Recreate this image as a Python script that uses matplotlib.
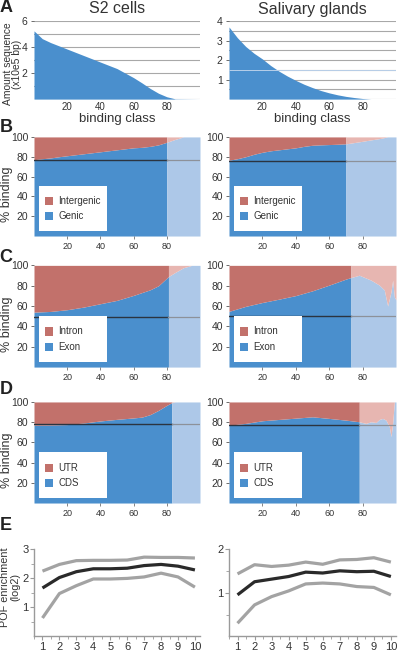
#!/usr/bin/env python3
"""Multi-panel binding class figure: sequence amount, binding fractions and POF enrichment."""

import matplotlib

matplotlib.use("Agg")
import matplotlib.pyplot as plt
from matplotlib.patches import Rectangle

plt.rcParams.update(
    {
        "font.family": ["Liberation Sans", "DejaVu Sans"],
        "font.size": 8,
        "xtick.labelsize": 7,
        "ytick.labelsize": 7.5,
        "xtick.color": "#555555",
        "ytick.color": "#555555",
        "xtick.labelcolor": "#333333",
        "ytick.labelcolor": "#333333",
    }
)

BLUE = "#4a8fcd"
RED = "#c2716b"
LIGHT_BLUE = "#adc8e8"
LIGHT_RED = "#e7b6b1"

# Panel A: amount of sequence per binding class (x10e5 bp)
A_X = [0, 5, 10, 15, 20, 25, 30, 35, 40, 45, 50, 55, 60, 65, 70, 75, 80, 85, 100]
A_S2 = [5.25, 4.65, 4.35, 4.1, 3.85, 3.6, 3.35, 3.1, 2.85, 2.6, 2.35, 2.0, 1.65,
        1.25, 0.82, 0.45, 0.18, 0.02, 0.0]
A_SG = [3.7, 3.15, 2.7, 2.35, 2.06, 1.72, 1.43, 1.18, 0.96, 0.76, 0.59, 0.44, 0.32,
        0.22, 0.14, 0.08, 0.03, 0.0, 0.0]

# Panel B: % genic binding
B_S2_X = [0, 5, 10, 15, 20, 25, 30, 35, 40, 45, 50, 55, 60, 65, 70, 75, 80, 85, 90, 100]
B_S2_Y = [77, 78, 78.8, 80, 81, 82, 83, 84, 85, 86, 87, 88, 89, 89.5, 90.5, 92, 94.6,
          97.5, 100, 100]
B_S2_CUT, B_S2_REF = 80, 77
B_SG_X = [0, 5, 10, 15, 20, 25, 30, 35, 40, 45, 50, 55, 60, 65, 70, 75, 80, 85, 90, 95, 100]
B_SG_Y = [76.5, 78, 80, 82.5, 84.5, 86, 87, 88, 89, 90.5, 91.6, 92, 92.3, 92.6, 93,
          94.3, 95.6, 97, 98.3, 100, 100]
B_SG_CUT, B_SG_REF = 70, 76

# Panel C: % exon binding
C_S2_X = [0, 10, 20, 30, 40, 50, 60, 70, 75, 81, 85, 90, 95, 100]
C_S2_Y = [54, 54.7, 56.4, 59, 62.3, 65.6, 70.5, 76, 80, 89, 93, 97.7, 100, 100]
C_S2_CUT, C_S2_REF = 81, 49
C_SG_X = [0, 10, 20, 30, 40, 50, 60, 70, 73, 78, 85, 90, 93, 95, 97, 98, 99, 100]
C_SG_Y = [54.8, 59.7, 63.5, 66.8, 70.3, 75, 80.6, 86.5, 88, 90.3, 85.5, 80.6, 75.8,
          60, 74, 85.5, 69, 66]
C_SG_CUT, C_SG_REF = 73, 50

# Panel D: % CDS binding
D_S2_X = [0, 10, 20, 30, 40, 50, 60, 65, 70, 75, 80, 83, 85, 100]
D_S2_Y = [77, 77.2, 77.6, 79.2, 81.2, 82.8, 84.2, 85, 87.5, 91.7, 96.7, 99.3, 100, 100]
D_S2_CUT, D_S2_REF = 83, 78
D_SG_X = [0, 10, 20, 30, 40, 50, 60, 70, 78, 82, 85, 88, 90, 92, 94, 96, 97, 98, 99, 100]
D_SG_Y = [77, 78.8, 81.4, 82.7, 84, 85.3, 83.7, 82, 80.4, 78.8, 80.4, 79.7, 82.7, 83.7,
          82, 75.5, 65.7, 78.8, 100, 100]
D_SG_CUT, D_SG_REF = 78, 77.5

# Panel E: POF enrichment (log2) per decile
E_X = [1, 2, 3, 4, 5, 6, 7, 8, 9, 10]
E_S2_HI = [2.24, 2.47, 2.6, 2.61, 2.61, 2.62, 2.72, 2.71, 2.71, 2.69]
E_S2_MID = [1.66, 2.02, 2.22, 2.32, 2.32, 2.34, 2.43, 2.47, 2.41, 2.28]
E_S2_LO = [0.63, 1.47, 1.74, 1.97, 1.97, 1.99, 2.04, 2.17, 2.04, 1.69]
E_SG_HI = [1.43, 1.64, 1.60, 1.63, 1.70, 1.65, 1.75, 1.76, 1.80, 1.70]
E_SG_MID = [0.95, 1.25, 1.31, 1.37, 1.47, 1.45, 1.50, 1.48, 1.49, 1.37]
E_SG_LO = [0.30, 0.72, 0.91, 1.04, 1.20, 1.22, 1.20, 1.14, 1.12, 0.95]

LEGENDS = {"B": ("Intergenic", "Genic"), "C": ("Intron", "Exon"), "D": ("UTR", "CDS")}

fig = plt.figure(figsize=(4.0, 6.52), dpi=100)

LX, LW = 0.085, 0.415
RX, RW = 0.5725, 0.4175
ROWS = {"A": (0.848, 0.1196), "B": (0.638, 0.152), "C": (0.437, 0.156),
        "D": (0.2285, 0.155), "E": (0.024, 0.134)}


def add_axes(row, left):
    b, h = ROWS[row]
    return fig.add_axes([LX if left else RX, b, LW if left else RW, h])


def panel_a(ax, ys, ymax, step, ticks, stray=None):
    for v in [i * step for i in range(int(round(ymax / step)) + 1)]:
        ax.axhline(v, color="#a8a8a8", lw=0.8, zorder=1)
    ax.fill_between(A_X, 0, ys, color=BLUE, lw=0, zorder=2)
    if stray is not None:
        ax.axhline(stray, color="#b8cfe9", lw=0.7, zorder=3)
    ax.set_xlim(0, 100)
    ax.set_ylim(0, ymax)
    ax.set_xticks([20, 40, 60, 80])
    ax.set_yticks(ticks)
    ax.tick_params(axis="x", length=0, pad=2)
    ax.tick_params(axis="y", length=2.5, width=0.6, pad=2)
    for s in ax.spines.values():
        s.set_visible(False)
    ax.set_xlabel("binding class", fontsize=9.5, color="#333333", labelpad=1)


def panel_frac(ax, key, xs, ys, cut, ref):
    dx = [x for x in xs if x <= cut]
    dy = [y for x, y in zip(xs, ys) if x <= cut]
    lx = [x for x in xs if x >= cut]
    ly = [y for x, y in zip(xs, ys) if x >= cut]
    ax.fill_between(dx, 0, dy, color=BLUE, lw=0)
    ax.fill_between(dx, dy, 100, color=RED, lw=0)
    ax.fill_between(lx, 0, ly, color=LIGHT_BLUE, lw=0)
    ax.fill_between(lx, ly, 100, color=LIGHT_RED, lw=0)
    ax.plot([0, cut], [ref, ref], color="#2b3440", lw=1.0)
    ax.plot([cut, 100], [ref, ref], color="#8d9199", lw=0.9)
    ax.set_xlim(0, 100)
    ax.set_ylim(0, 100)
    ax.set_xticks([20, 40, 60, 80])
    ax.set_yticks([20, 40, 60, 80, 100])
    ax.tick_params(axis="x", length=2, width=0.5, pad=2, labelsize=6.5)
    ax.tick_params(axis="y", length=2.5, width=0.6, pad=1.5)
    for s in ax.spines.values():
        s.set_visible(False)
    # legend box
    ax.add_patch(Rectangle((0.03, 0.05), 0.41, 0.45, transform=ax.transAxes,
                           facecolor="white", edgecolor="none", zorder=5))
    top, bot = LEGENDS[key]
    for yc, col, lab in [(0.35, RED, top), (0.2, BLUE, bot)]:
        ax.add_patch(Rectangle((0.066, yc - 0.04), 0.05, 0.08, transform=ax.transAxes,
                               facecolor=col, edgecolor="none", zorder=6))
        ax.text(0.145, yc, lab, transform=ax.transAxes, fontsize=7, color="#333333",
                va="center", ha="left", zorder=7)


def panel_e(ax, hi, mid, lo, ymax):
    ax.plot(E_X, hi, color="#a3a3a3", lw=2.3, solid_capstyle="butt")
    ax.plot(E_X, lo, color="#a3a3a3", lw=2.3, solid_capstyle="butt")
    ax.plot(E_X, mid, color="#2a2a2a", lw=2.3, solid_capstyle="butt")
    ax.set_xlim(0.5, 10.3)
    ax.set_ylim(0, ymax)
    ax.set_xticks(E_X)
    ax.set_xticks([x + 0.5 for x in E_X[:-1]] + [0.5], minor=True)
    ax.set_yticks(list(range(1, ymax + 1)))
    ax.set_yticks([i + 0.5 for i in range(ymax)], minor=True)
    ax.tick_params(axis="both", which="major", length=3, width=0.8, color="#9a9a9a",
                   labelsize=8, pad=1)
    ax.tick_params(axis="both", which="minor", length=2, width=0.6, color="#9a9a9a")
    for s in ["top", "right"]:
        ax.spines[s].set_visible(False)
    for s in ["left", "bottom"]:
        ax.spines[s].set_color("#9a9a9a")
        ax.spines[s].set_linewidth(1.0)


# Row A
axA1 = add_axes("A", True)
panel_a(axA1, A_S2, 6, 1, [2, 4, 6])
axA1.set_ylabel("Amount sequence\n(x10e5 bp)", fontsize=7.4, color="#333333", linespacing=0.95)
axA1.yaxis.set_label_coords(-0.07, 0.45)
axA1.set_title("S2 cells", fontsize=11.5, color="#333333", pad=6)
axA2 = add_axes("A", False)
panel_a(axA2, A_SG, 4, 0.5, [1, 2, 3, 4], stray=1.5)
axA2.set_title("Salivary glands", fontsize=11.5, color="#333333", pad=5)

# Rows B-D
for key, s2, sg in [
    ("B", (B_S2_X, B_S2_Y, B_S2_CUT, B_S2_REF), (B_SG_X, B_SG_Y, B_SG_CUT, B_SG_REF)),
    ("C", (C_S2_X, C_S2_Y, C_S2_CUT, C_S2_REF), (C_SG_X, C_SG_Y, C_SG_CUT, C_SG_REF)),
    ("D", (D_S2_X, D_S2_Y, D_S2_CUT, D_S2_REF), (D_SG_X, D_SG_Y, D_SG_CUT, D_SG_REF)),
]:
    ax1 = add_axes(key, True)
    panel_frac(ax1, key, *s2)
    ax1.set_ylabel("% binding", fontsize=9, color="#333333")
    ax1.yaxis.set_label_coords(-0.125, 0.42)
    ax2 = add_axes(key, False)
    panel_frac(ax2, key, *sg)

# Row E
axE1 = add_axes("E", True)
panel_e(axE1, E_S2_HI, E_S2_MID, E_S2_LO, 3)
axE1.set_ylabel("POF enrichment\n(log2)", fontsize=7.8, color="#333333", linespacing=0.95)
axE1.yaxis.set_label_coords(-0.085, 0.56)
axE2 = add_axes("E", False)
panel_e(axE2, E_SG_HI, E_SG_MID, E_SG_LO, 2)

# Panel letters
for lab, ypx in [("A", 7), ("B", 127), ("C", 257), ("D", 389), ("E", 526)]:
    fig.text(6 / 400, 1 - ypx / 652, lab, fontsize=13, fontweight="bold",
             color="#222222", ha="center", va="center")

fig.savefig("out.png", dpi=100)
